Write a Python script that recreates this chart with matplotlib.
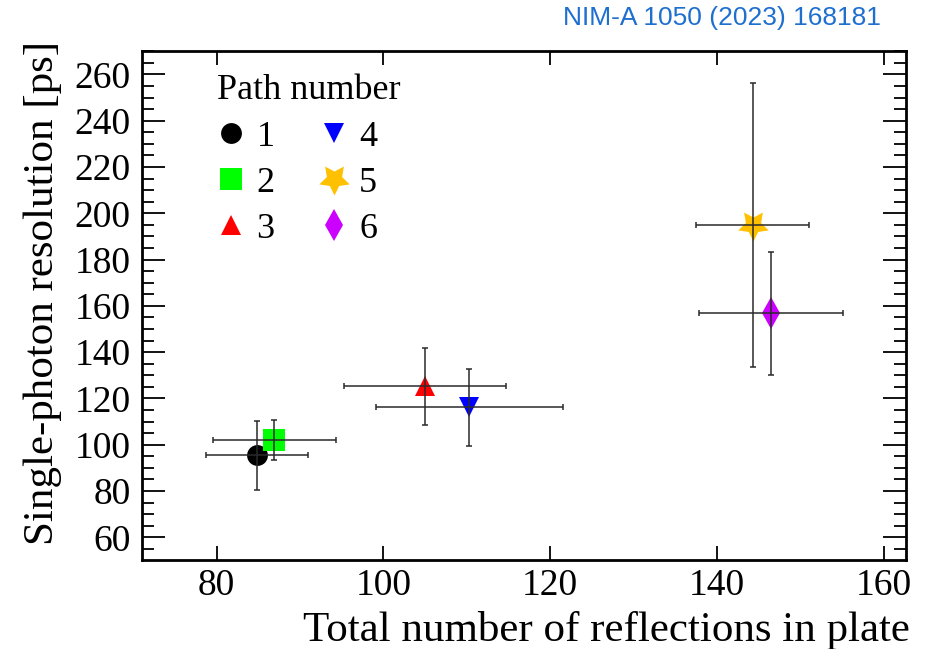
import matplotlib
matplotlib.use("Agg")
import matplotlib.pyplot as plt
from matplotlib.ticker import MultipleLocator

# Timing resolution per optical path
paths = ["1", "2", "3", "4", "5", "6"]
reflections = [84.8, 86.9, 105.0, 110.3, 144.3, 146.5]
reflections_err = [6.1, 7.4, 9.7, 11.2, 6.8, 8.6]
resolution_ps = [95.4, 102.0, 125.2, 116.1, 195.0, 156.8]
resolution_err = [15.0, 8.8, 16.6, 16.7, 61.2, 26.6]

markers = ["o", "s", "^", "v", (5, 1, 180), "d"]
colors = ["#000000", "#00ff00", "#ff0000", "#0000ff", "#ffc000", "#cc00ff"]
sizes = [15, 15.5, 15, 15, 23, 16]

plt.rcParams["font.family"] = ["Liberation Serif", "DejaVu Serif"]

fig = plt.figure(figsize=(9.3, 6.49), dpi=100)
ax = fig.add_axes([0.1524, 0.1371, 0.8218, 0.7843])

handles = []
for i in range(len(paths)):
    h, = ax.plot(reflections[i], resolution_ps[i], linestyle="none",
                 marker=markers[i], color=colors[i], markersize=sizes[i],
                 markeredgewidth=0, zorder=2)
    handles.append(h)
    ax.errorbar(reflections[i], resolution_ps[i], xerr=reflections_err[i],
                yerr=resolution_err[i], fmt="none", ecolor="#2a2a2a",
                elinewidth=1.1, capsize=2.5, capthick=1.1, zorder=3)

ax.set_xlim(71.0, 162.7)
ax.set_ylim(50.2, 270.1)
ax.xaxis.set_major_locator(MultipleLocator(20))
ax.yaxis.set_major_locator(MultipleLocator(20))
ax.yaxis.set_minor_locator(MultipleLocator(5))

for s in ax.spines.values():
    s.set_linewidth(2.0)

ax.tick_params(axis="both", which="both", direction="in", top=True, right=True,
               labelsize=27, width=1.3)
ax.tick_params(axis="x", which="major", length=10, pad=6)
ax.tick_params(axis="y", which="major", length=16.5, pad=8)
ax.tick_params(axis="y", which="minor", length=8.5)

ax.set_xlabel("Total number of reflections in plate", fontsize=31, loc="right")
ax.set_ylabel("Single-photon resolution [ps]", fontsize=31, loc="top")
ax.xaxis.set_label_coords(1.005, -0.1)
ax.yaxis.set_label_coords(-0.104, 1.02)

leg = ax.legend(handles, paths, ncol=2,
                title="Path number", loc="upper left",
                bbox_to_anchor=(0.065, 1.004), frameon=False, fontsize=26,
                title_fontsize=26, numpoints=1, handlelength=0.8,
                handletextpad=0.3, columnspacing=1.24, labelspacing=0.36,
                alignment="left", borderpad=0.2)

fig.text(0.947, 0.972, "NIM-A 1050 (2023) 168181", ha="right", va="center",
         color="#1f6fcf", fontsize=19,
         family=["Liberation Sans", "DejaVu Sans"])

fig.savefig("out.png", dpi=100)
